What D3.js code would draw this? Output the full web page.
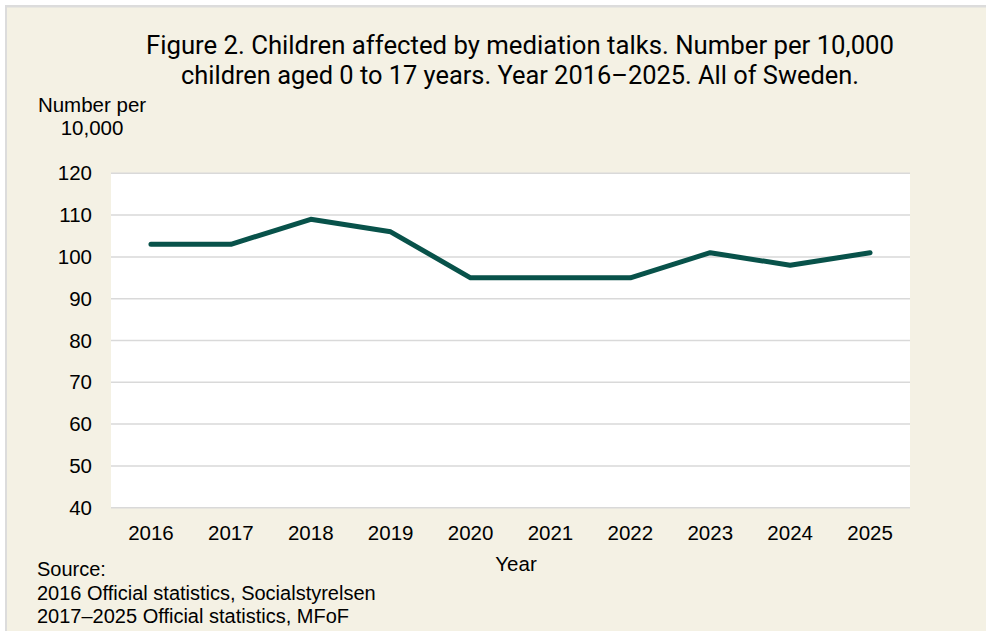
<!DOCTYPE html>
<html>
<head>
<meta charset="utf-8">
<script src="https://cdn.jsdelivr.net/npm/d3@7"></script>
<style>
html,body{margin:0;padding:0;background:#fff;}
svg{display:block;}
</style>
</head>
<body>
<svg id="chart" width="986" height="631"></svg>
<script>
const years = ["2016","2017","2018","2019","2020","2021","2022","2023","2024","2025"];
const values = [103,103,109,106,95,95,95,101,98,101];
const yTicks = [40,50,60,70,80,90,100,110,120];
const titleLines = ["Figure 2. Children affected by mediation talks. Number per 10,000",
                    "children aged 0 to 17 years. Year 2016\u20132025. All of Sweden."];
const yLabelLines = ["Number per","10,000"];
const xLabel = "Year";
const sourceLines = ["Source:","2016 Official statistics, Socialstyrelsen","2017\u20132025 Official statistics, MFoF"];

const svg = d3.select("#chart");
const W = 986, H = 631;
const m = {left:111, right:W-910, top:173.3, bottom:H-507.7};
const FONT = "'Liberation Sans', Arial, sans-serif";

// frame
svg.append("rect").attr("x",5).attr("y",5).attr("width",W-5).attr("height",H-5).attr("fill","#dcdcdc");
svg.append("rect").attr("x",7).attr("y",7.5).attr("width",W-7).attr("height",H-7.5).attr("fill","#f4f1e4");

const x = d3.scaleBand().domain(years).range([m.left, W-m.right]);
const y = d3.scaleLinear().domain([40,120]).range([H-m.bottom, m.top]);

// plot bg
svg.append("rect").attr("x",m.left).attr("y",m.top).attr("width",W-m.right-m.left).attr("height",H-m.bottom-m.top).attr("fill","#ffffff");

// grid
svg.append("g").selectAll("line").data(yTicks).join("line")
  .attr("x1",m.left).attr("x2",W-m.right)
  .attr("y1",d=>y(d)).attr("y2",d=>y(d))
  .attr("stroke","#d9d9d9").attr("stroke-width",1.5);

// y axis
const yAxis = d3.axisLeft(y).tickValues(yTicks).tickSize(0).tickPadding(19);
const gy = svg.append("g").attr("transform",`translate(${m.left},0)`).call(yAxis);
gy.select(".domain").remove();
gy.selectAll("text").attr("font-family",FONT).attr("font-size",20.5).attr("fill","#000");

// x axis
const xAxis = d3.axisBottom(x).tickSize(0).tickPadding(17.5);
const gx = svg.append("g").attr("transform",`translate(0,${H-m.bottom})`).call(xAxis);
gx.select(".domain").remove();
gx.selectAll("text").attr("font-family",FONT).attr("font-size",20.5).attr("fill","#000");

// line
const line = d3.line().x((d,i)=>x(years[i])+x.bandwidth()/2).y(d=>y(d));
svg.append("path").datum(values).attr("d",line)
  .attr("fill","none").attr("stroke","#08524a").attr("stroke-width",5)
  .attr("stroke-linecap","round").attr("stroke-linejoin","round");

// title
const titleWidths = [748, 678];
svg.append("g").selectAll("text").data(titleLines).join("text")
  .attr("x",520).attr("y",(d,i)=>54+i*29.5)
  .attr("text-anchor","middle")
  .attr("font-family","Roboto, sans-serif").attr("font-size",25.5).attr("fill","#000")
  .attr("textLength",(d,i)=>titleWidths[i]).attr("lengthAdjust","spacingAndGlyphs")
  .text(d=>d);

// y label
svg.append("g").selectAll("text").data(yLabelLines).join("text")
  .attr("x",92).attr("y",(d,i)=>112+i*23)
  .attr("text-anchor","middle")
  .attr("font-family",FONT).attr("font-size",20.5).attr("fill","#000")
  .text(d=>d);

// x label
svg.append("text").attr("x",516).attr("y",571).attr("text-anchor","middle")
  .attr("font-family",FONT).attr("font-size",20.5).attr("fill","#000")
  .text(xLabel);

// source
svg.append("g").selectAll("text").data(sourceLines).join("text")
  .attr("x",37).attr("y",(d,i)=>576+i*23.5)
  .attr("font-family",FONT).attr("font-size",20).attr("fill","#000")
  .text(d=>d);
</script>
</body>
</html>
